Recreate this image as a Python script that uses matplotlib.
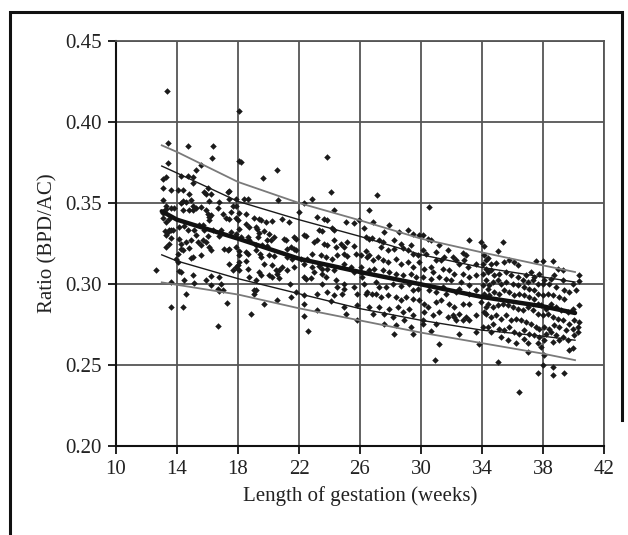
import matplotlib
matplotlib.use("Agg")
import matplotlib.pyplot as plt
from matplotlib.lines import Line2D

plt.rcParams['font.family'] = ['Liberation Serif', 'DejaVu Serif']

# ---- axis ticks ----
x_ticks = [10, 14, 18, 22, 26, 30, 34, 38, 42]
y_ticks = [0.20, 0.25, 0.30, 0.35, 0.40, 0.45]

# ---- reference curves ----
curve_weeks = [13.0, 14.0, 18.0, 22.0, 26.0, 30.0, 34.0, 38.0, 40.1]
curve_mean = [0.3449, 0.3397, 0.3280, 0.3156, 0.3074, 0.2998, 0.2920, 0.2862, 0.2821]
curve_inner_upper = [0.3728, 0.3685, 0.3510, 0.3397, 0.3294, 0.3181, 0.3102, 0.3043, 0.3012]
curve_outer_upper = [0.3856, 0.3815, 0.3630, 0.3500, 0.3393, 0.3280, 0.3195, 0.3115, 0.3074]
curve_inner_lower = [0.3180, 0.3142, 0.3033, 0.2940, 0.2848, 0.2776, 0.2715, 0.2678, 0.2653]
curve_outer_lower = [0.3010, 0.2995, 0.2935, 0.2850, 0.2775, 0.2700, 0.2635, 0.2570, 0.2530]

# ---- scatter, 13-19 weeks ----
weeks_a = [13.39, 14.70, 16.38, 16.27, 18.20, 18.09, 13.39, 15.57, 15.25, 13.28, 13.06, 14.26, 14.70, 15.03,
           15.03, 16.01, 15.79, 15.90, 16.23, 13.06, 13.61, 14.04, 14.37, 14.81, 17.43, 17.32, 17.43, 17.87,
           18.42, 18.64, 14.37, 14.26, 14.92, 14.59, 16.12, 16.78, 13.28, 13.61, 13.83, 15.03, 15.25, 15.57,
           14.37, 14.81, 15.03, 15.90, 16.67, 17.65, 17.87, 17.54, 18.09, 18.53, 16.01, 16.12, 16.12, 16.23,
           17.00, 17.21, 17.43, 17.87, 17.98, 19.07, 18.53, 18.75, 19.18, 13.06, 13.28, 13.50, 13.61, 13.72,
           14.15, 14.48, 14.70, 15.47, 15.68, 15.14, 15.25, 15.79, 16.01, 16.34, 16.89, 16.78, 17.54, 17.87,
           18.09, 18.20, 18.64, 18.75, 19.29, 13.61, 14.15, 14.26, 14.59, 14.92, 15.36, 15.68, 15.90, 16.12,
           16.23, 13.28, 14.26, 14.37, 14.81, 15.57, 17.11, 17.32, 17.43, 17.87, 18.09, 18.53, 18.64, 19.18,
           14.04, 13.93, 14.04, 15.03, 14.92, 15.57, 18.09, 18.09, 17.98, 17.43, 17.87, 18.53, 18.64, 17.65,
           18.09, 18.75, 19.18, 12.62, 14.15, 14.26, 15.03, 15.90, 16.23, 16.78, 13.61, 14.48, 15.14, 16.23,
           16.89, 16.67, 16.78, 17.00, 19.07, 14.59, 13.61, 14.37, 17.26, 18.85, 16.67, 13.35, 18.05,
           13.05, 13.15, 13.20, 13.30, 13.45, 13.50, 13.10, 13.25, 13.40]
ratio_a = [0.387, 0.385, 0.385, 0.378, 0.3753, 0.376, 0.3749, 0.3733, 0.3706, 0.366, 0.365, 0.3665, 0.3665, 0.366,
           0.3624, 0.3595, 0.3568, 0.3558, 0.3558, 0.3595, 0.3578, 0.3578, 0.3578, 0.3558, 0.3574, 0.3568, 0.3527, 0.3527,
           0.3527, 0.3527, 0.3512, 0.350, 0.3517, 0.3506, 0.3512, 0.3506, 0.348, 0.3471, 0.3471, 0.348, 0.3471, 0.3475,
           0.3455, 0.3455, 0.3455, 0.3459, 0.3469, 0.348, 0.348, 0.3445, 0.3438, 0.3434, 0.3434, 0.3414, 0.3393, 0.3424,
           0.343, 0.3409, 0.3403, 0.3409, 0.3393, 0.3409, 0.3372, 0.3352, 0.3352, 0.3409, 0.3383, 0.3335, 0.3335, 0.3335,
           0.3352, 0.3356, 0.3331, 0.3362, 0.3362, 0.3331, 0.330, 0.3331, 0.3294, 0.3331, 0.3331, 0.3294, 0.3321, 0.3311,
           0.3342, 0.329, 0.329, 0.3269, 0.329, 0.3286, 0.328, 0.3249, 0.3259, 0.3269, 0.3259, 0.3269, 0.3259, 0.3228,
           0.3212, 0.3228, 0.3218, 0.3208, 0.3224, 0.3239, 0.3218, 0.3208, 0.3218, 0.3228, 0.3204, 0.3197, 0.3187, 0.3208,
           0.3187, 0.3156, 0.3136, 0.3167, 0.316, 0.3177, 0.3177, 0.3136, 0.3115, 0.3126, 0.3105, 0.314, 0.3095, 0.3084,
           0.3084, 0.3043, 0.3022, 0.3088, 0.308, 0.3074, 0.3053, 0.3027, 0.3047, 0.3043, 0.3012, 0.3022, 0.3006, 0.2992,
           0.2998, 0.2971, 0.2957, 0.2965, 0.2961, 0.294, 0.2858, 0.2858, 0.2882, 0.2817, 0.2743, 0.419, 0.407,
           0.3440, 0.3450, 0.3330, 0.3460, 0.3250, 0.3400, 0.3520, 0.3300, 0.3320]

# ---- scatter, 19-27 weeks ----
weeks_b = [23.86, 20.58, 19.66, 24.08, 22.87, 22.33, 20.62, 24.30, 26.59, 22.00, 23.20, 23.64, 23.86, 20.91,
           19.38, 19.49, 19.81, 20.25, 21.34, 23.31, 24.19, 24.30, 23.53, 25.06, 25.61, 25.94, 26.26, 19.27,
           19.38, 19.71, 20.03, 20.36, 20.14, 21.02, 21.13, 21.67, 21.78, 22.33, 22.44, 19.92, 21.45, 21.24,
           21.67, 21.78, 19.16, 19.60, 19.92, 22.98, 23.20, 23.64, 23.86, 24.30, 24.40, 24.73, 25.17, 24.95,
           25.61, 26.37, 26.81, 19.44, 19.49, 20.03, 20.36, 21.24, 21.56, 22.11, 22.55, 22.87, 23.42, 23.75,
           24.19, 24.51, 24.95, 25.17, 25.72, 26.04, 26.37, 26.48, 19.71, 20.25, 20.47, 20.69, 20.91, 21.24,
           21.67, 22.33, 22.87, 23.31, 23.53, 23.86, 22.98, 23.53, 23.75, 24.30, 24.95, 25.39, 25.61, 26.04,
           26.04, 26.59, 19.38, 19.49, 20.03, 20.58, 20.25, 20.69, 21.41, 22.33, 22.44, 22.77, 23.53, 24.40,
           24.51, 24.95, 24.95, 25.61, 26.15, 26.26, 26.48, 19.16, 19.05, 21.78, 22.33, 23.20, 23.86, 24.30,
           24.84, 25.83, 26.37, 26.81, 19.71, 20.58, 21.45, 22.33, 23.20, 24.08, 24.95, 25.83, 26.59, 25.06,
           25.83, 22.33, 22.60]
ratio_b = [0.3784, 0.3706, 0.3656, 0.3568, 0.3525, 0.350, 0.352, 0.3459, 0.3455, 0.3444, 0.3413, 0.3403, 0.3393, 0.3403,
           0.3403, 0.3393, 0.3383, 0.3387, 0.3383, 0.3331, 0.3348, 0.3331, 0.3327, 0.3383, 0.3376, 0.3393, 0.3348, 0.3341,
           0.3315, 0.3327, 0.3311, 0.329, 0.327, 0.328, 0.327, 0.329, 0.328, 0.330, 0.3294, 0.3274, 0.3228, 0.3218,
           0.3218, 0.3208, 0.3239, 0.3239, 0.3232, 0.3259, 0.327, 0.3249, 0.3239, 0.327, 0.3228, 0.3249, 0.3259, 0.3228,
           0.3232, 0.329, 0.3286, 0.3187, 0.3167, 0.3177, 0.3171, 0.3167, 0.3156, 0.3156, 0.3156, 0.3187, 0.3177, 0.3167,
           0.3156, 0.3177, 0.3187, 0.3171, 0.3183, 0.3177, 0.3204, 0.3167, 0.3121, 0.3115, 0.3084, 0.3088, 0.3105, 0.3088,
           0.3105, 0.3121, 0.3105, 0.3109, 0.3094, 0.3094, 0.3074, 0.3064, 0.3043, 0.3084, 0.3121, 0.3105, 0.3074, 0.3105,
           0.3074, 0.3084, 0.3074, 0.3053, 0.3053, 0.3064, 0.3043, 0.3039, 0.3002, 0.3043, 0.3033, 0.3039, 0.3002, 0.3022,
           0.2981, 0.3002, 0.2971, 0.2981, 0.3043, 0.3002, 0.2951, 0.2961, 0.2936, 0.2951, 0.293, 0.294, 0.2951, 0.293,
           0.2936, 0.294, 0.294, 0.294, 0.2878, 0.2899, 0.292, 0.2878, 0.2837, 0.2895, 0.2858, 0.2868, 0.2858, 0.2817,
           0.2776, 0.280, 0.271]

# ---- scatter, 27-34 weeks ----
weeks_c = [27.09, 30.55, 26.83, 27.92, 27.60, 28.58, 29.13, 29.45, 29.89, 30.11, 30.44, 30.66, 31.20, 31.75,
           32.73, 32.95, 33.17, 33.94, 34.15, 26.61, 27.27, 27.49, 28.25, 28.69, 29.34, 27.38, 27.81, 28.25,
           28.80, 29.13, 29.45, 29.78, 30.11, 30.33, 30.98, 30.98, 31.53, 31.31, 32.08, 32.30, 32.51, 32.84,
           33.06, 33.61, 34.04, 34.26, 26.61, 26.83, 27.16, 27.49, 27.81, 28.36, 28.69, 29.13, 29.45, 29.89,
           30.22, 30.66, 30.77, 31.42, 31.86, 32.19, 32.73, 33.17, 33.61, 34.04, 34.37, 26.94, 27.49, 27.92,
           28.36, 28.80, 29.34, 29.67, 30.11, 30.66, 31.20, 31.64, 31.97, 32.62, 33.17, 34.04, 34.37, 27.05,
           27.27, 27.70, 28.14, 28.69, 29.24, 29.45, 29.78, 30.55, 30.98, 31.42, 31.64, 32.30, 32.51, 33.17,
           33.61, 34.15, 27.05, 27.38, 27.81, 28.36, 28.69, 29.02, 29.45, 29.89, 30.22, 30.44, 30.98, 31.31,
           31.86, 32.19, 32.73, 33.17, 33.94, 34.26, 27.27, 27.92, 28.47, 28.80, 29.24, 30.22, 30.77, 31.20,
           31.75, 32.08, 32.51, 32.95, 33.61, 34.15, 26.83, 27.60, 28.14, 28.91, 29.45, 30.11, 27.60, 28.36,
           29.34, 30.11, 30.98, 32.19, 32.30, 32.73, 33.17, 34.04, 28.25, 29.45, 30.66, 31.20, 32.51, 33.83,
           33.61, 30.90]
ratio_c = [0.3547, 0.3475, 0.3383, 0.3362, 0.3321, 0.3321, 0.3335, 0.3306, 0.330, 0.330, 0.328, 0.327, 0.3239, 0.3208,
           0.3191, 0.3177, 0.327, 0.326, 0.3232, 0.328, 0.3274, 0.326, 0.327, 0.325, 0.3239, 0.3228, 0.3208, 0.3218,
           0.3224, 0.3212, 0.3187, 0.3177, 0.3208, 0.3187, 0.3197, 0.3146, 0.3167, 0.3146, 0.3167, 0.3146, 0.3125, 0.3146,
           0.3105, 0.3125, 0.3125, 0.3146, 0.3177, 0.3146, 0.3167, 0.3146, 0.3136, 0.3156, 0.3125, 0.3136, 0.3105, 0.3136,
           0.3095, 0.3105, 0.3074, 0.3095, 0.3084, 0.3064, 0.3064, 0.3043, 0.3053, 0.3064, 0.3074, 0.3095, 0.3084, 0.3074,
           0.3064, 0.3053, 0.3064, 0.3043, 0.3043, 0.3033, 0.3043, 0.3033, 0.3022, 0.3012, 0.2992, 0.2992, 0.2971, 0.3012,
           0.2981, 0.2981, 0.2998, 0.2986, 0.3002, 0.2961, 0.2971, 0.2961, 0.2951, 0.2981, 0.294, 0.2951, 0.2971, 0.294,
           0.2961, 0.293, 0.294, 0.292, 0.293, 0.292, 0.2899, 0.292, 0.2909, 0.2899, 0.2878, 0.2858, 0.2889, 0.2899,
           0.2878, 0.2858, 0.2878, 0.2878, 0.2889, 0.2858, 0.2858, 0.2848, 0.2858, 0.2827, 0.2848, 0.2827, 0.2806, 0.2827,
           0.2796, 0.2806, 0.2817, 0.2796, 0.2806, 0.2827, 0.2817, 0.2817, 0.2796, 0.2776, 0.2806, 0.2776, 0.2755, 0.2745,
           0.2734, 0.2755, 0.2755, 0.2796, 0.2776, 0.2776, 0.2776, 0.2734, 0.2693, 0.2693, 0.271, 0.2632, 0.2693, 0.2632,
           0.2704, 0.253]

# ---- scatter, 34-40.5 weeks ----
weeks_d = [35.36, 35.03, 34.15, 37.54, 37.98, 38.63, 37.21, 38.96, 39.29, 40.38, 40.38, 34.37, 34.59, 34.92,
           35.46, 35.79, 36.12, 36.34, 36.89, 37.43, 37.76, 38.09, 38.52, 38.74, 39.29, 39.95, 34.26, 34.59,
           34.81, 35.14, 35.57, 35.90, 36.34, 36.67, 36.99, 37.32, 37.65, 37.98, 38.42, 38.85, 39.40, 39.73,
           40.16, 34.26, 34.48, 34.70, 35.03, 35.25, 35.57, 36.01, 36.34, 36.78, 37.10, 37.43, 37.65, 37.98,
           38.31, 38.63, 39.07, 39.40, 40.38, 34.15, 34.48, 34.81, 35.14, 35.46, 35.79, 36.12, 36.45, 36.78,
           37.10, 37.43, 37.65, 37.87, 38.20, 38.52, 38.85, 39.18, 39.62, 39.95, 40.38, 34.37, 34.70, 35.03,
           35.36, 35.68, 36.01, 36.34, 36.67, 36.99, 37.32, 37.65, 37.98, 38.31, 38.63, 38.96, 39.29, 39.73,
           40.06, 34.26, 34.59, 34.92, 35.25, 35.57, 35.90, 36.23, 36.56, 36.89, 37.21, 37.54, 37.76, 38.09,
           38.42, 38.74, 39.07, 39.51, 39.95, 40.27, 34.37, 34.70, 35.14, 35.46, 35.79, 36.12, 36.45, 36.78,
           37.10, 37.43, 37.76, 38.20, 38.52, 38.85, 39.29, 39.62, 40.06, 40.27, 34.59, 35.25, 35.68, 36.23,
           36.78, 36.99, 37.65, 38.09, 38.63, 39.07, 39.95, 39.73, 35.03, 36.99, 37.98, 38.63, 38.63, 37.65,
           39.40, 36.45, 37.87, 38.09]
ratio_d = [0.3259, 0.3203, 0.3177, 0.314, 0.314, 0.314, 0.3074, 0.3094, 0.3084, 0.3058, 0.3017, 0.3162, 0.3125, 0.3129,
           0.3136, 0.3146, 0.3136, 0.3115, 0.3054, 0.3043, 0.3064, 0.3023, 0.3033, 0.3054, 0.3023, 0.3002, 0.3095, 0.3084,
           0.3054, 0.3064, 0.3074, 0.3054, 0.3043, 0.3027, 0.3012, 0.3023, 0.3002, 0.3002, 0.3002, 0.2982, 0.2961, 0.2951,
           0.2961, 0.3023, 0.2992, 0.3012, 0.3023, 0.3002, 0.3012, 0.3002, 0.2992, 0.2982, 0.2971, 0.2961, 0.294, 0.293,
           0.294, 0.293, 0.292, 0.291, 0.2869, 0.294, 0.293, 0.2951, 0.294, 0.2961, 0.2951, 0.293, 0.294, 0.293,
           0.292, 0.291, 0.2879, 0.2869, 0.2848, 0.2879, 0.2858, 0.2838, 0.2828, 0.2848, 0.2766, 0.2879, 0.2858, 0.2869,
           0.2879, 0.2869, 0.2858, 0.2848, 0.2838, 0.2858, 0.2838, 0.2817, 0.2807, 0.2817, 0.2797, 0.2787, 0.2776, 0.2756,
           0.2776, 0.2817, 0.2797, 0.2807, 0.2787, 0.2807, 0.2776, 0.2787, 0.2776, 0.2766, 0.2756, 0.2735, 0.2725, 0.2735,
           0.2725, 0.2746, 0.2735, 0.2715, 0.2725, 0.2735, 0.2735, 0.2756, 0.2725, 0.2715, 0.2735, 0.2704, 0.2694, 0.2715,
           0.2694, 0.2684, 0.2674, 0.2694, 0.2704, 0.2684, 0.2674, 0.2653, 0.2684, 0.2704, 0.2704, 0.2674, 0.2653, 0.2633,
           0.2663, 0.2633, 0.2633, 0.2653, 0.2643, 0.2653, 0.2602, 0.2592, 0.252, 0.2581, 0.2499, 0.2489, 0.2438, 0.2448,
           0.2448, 0.2335, 0.2612, 0.256]

fig = plt.figure(figsize=(6.28, 5.35), dpi=100)
ax = fig.add_axes([116 / 628, 1 - 446 / 535, 488 / 628, 405 / 535])

grid_c = '#555555'
ax.set_xlim(10, 42)
ax.set_ylim(0.20, 0.45)
ax.set_xticks(x_ticks)
ax.set_yticks(y_ticks)
ax.set_yticklabels([f'{v:.2f}' for v in y_ticks])
ax.grid(True, color=grid_c, lw=1.3, zorder=0)
ax.set_axisbelow(True)
for side in ('top', 'right'):
    ax.spines[side].set_color(grid_c)
    ax.spines[side].set_linewidth(1.3)
for side in ('left', 'bottom'):
    ax.spines[side].set_color('#111111')
    ax.spines[side].set_linewidth(1.5)
ax.tick_params(direction='out', length=6, width=1.3, color='#111111',
               labelsize=15, labelcolor='#222222', pad=4)

mk = dict(marker='D', s=11, color='#1a1a1a', linewidths=0, zorder=2)
for xs, ys in ((weeks_a, ratio_a), (weeks_b, ratio_b), (weeks_c, ratio_c), (weeks_d, ratio_d)):
    ax.scatter(xs, ys, **mk)

ax.plot(curve_weeks, curve_outer_upper, color='#7a7a7a', lw=1.3, zorder=3)
ax.plot(curve_weeks, curve_outer_lower, color='#7a7a7a', lw=1.3, zorder=3)
ax.plot(curve_weeks, curve_inner_upper, color='#1a1a1a', lw=1.0, zorder=3)
ax.plot(curve_weeks, curve_inner_lower, color='#1a1a1a', lw=1.0, zorder=3)
ax.plot(curve_weeks, curve_mean, color='#111111', lw=3.2, zorder=4, solid_capstyle='round')

ax.set_xlabel('Length of gestation (weeks)', fontsize=15, color='#222222', labelpad=5)
ax.set_ylabel('Ratio (BPD/AC)', fontsize=15, color='#222222', labelpad=6)

# figure frame: left, top, right (right side ends above the bottom)
W, H = 628, 535
frame_x = [10 / W, 10 / W, 622 / W, 622 / W]
frame_y = [0.0, 1 - 12 / H, 1 - 12 / H, 1 - 420 / H]
fig.add_artist(Line2D(frame_x, frame_y, transform=fig.transFigure,
                      color='#111111', lw=2.2, solid_joinstyle='miter'))

fig.savefig('out.png', dpi=100, facecolor='white')
